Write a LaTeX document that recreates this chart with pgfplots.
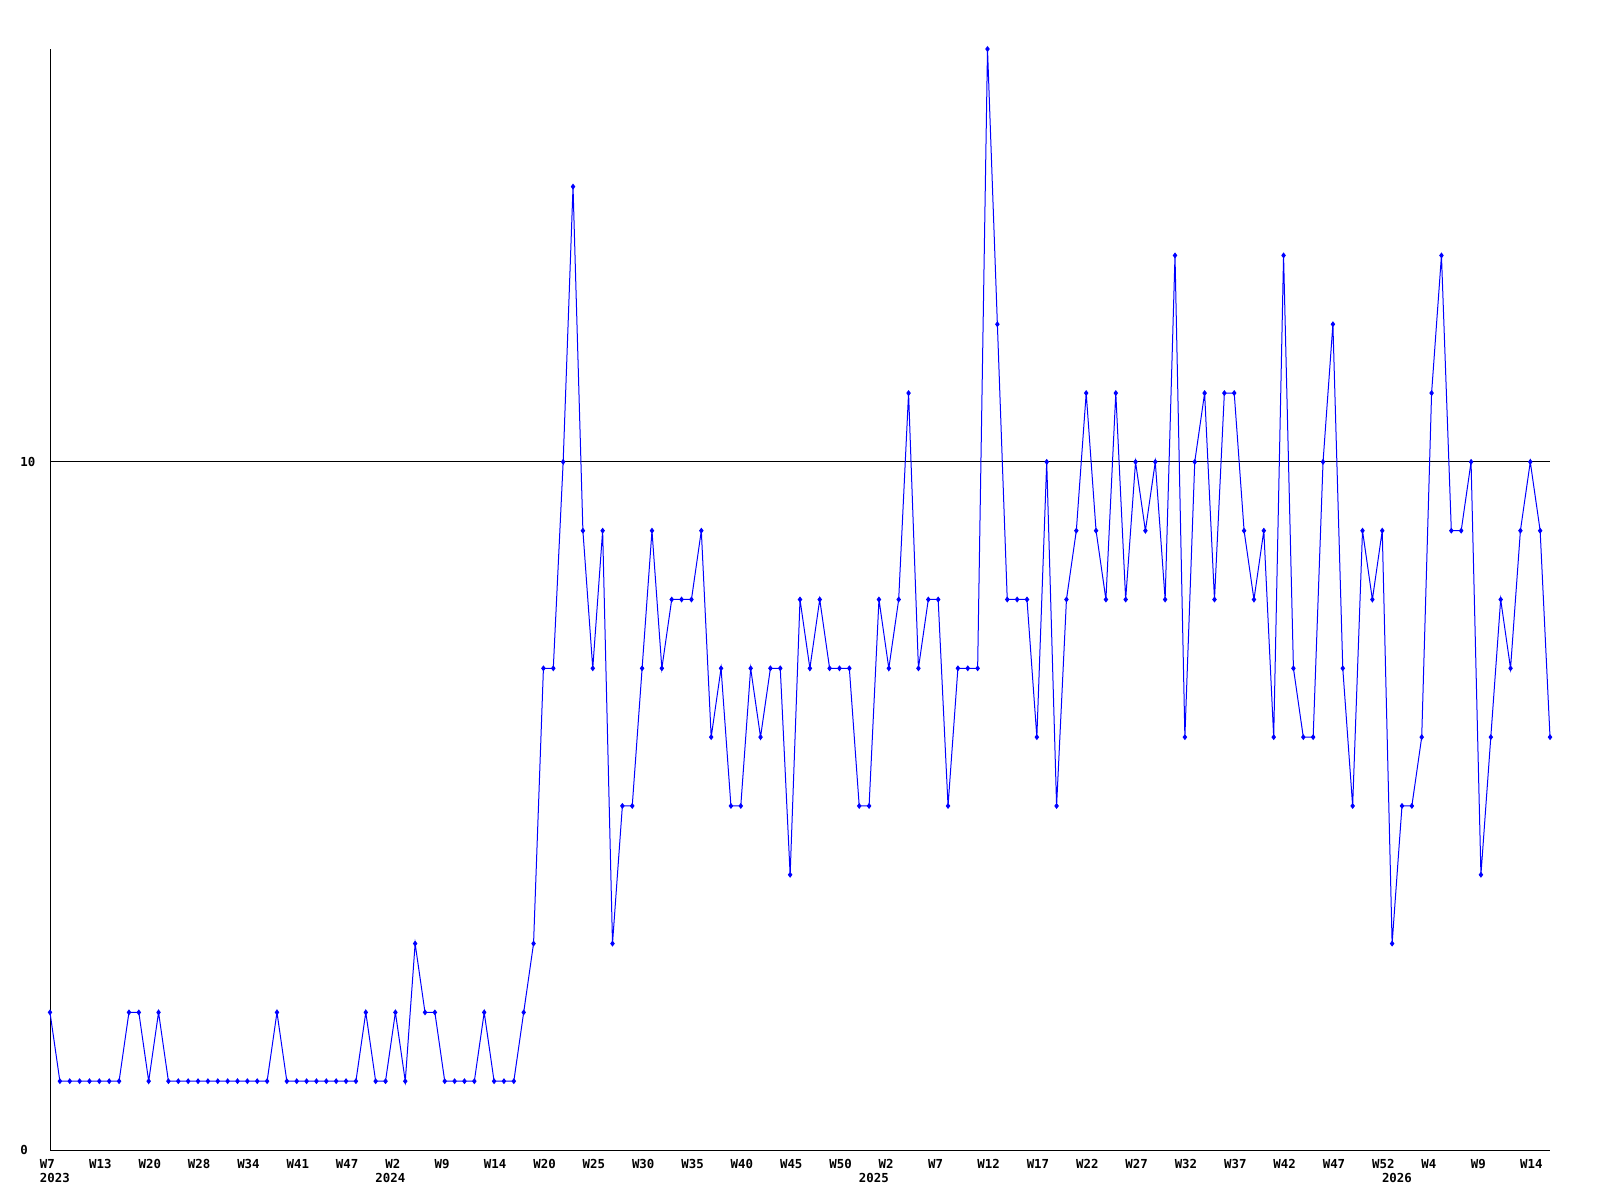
\documentclass[border=0pt]{standalone}
\usepackage{fontspec}
\setmainfont{DejaVu Sans Mono}
\usepackage{pgfplots}
\pgfplotsset{compat=1.18}
\begin{document}
\begin{tikzpicture}
\useasboundingbox (0,0) rectangle (800pt,600pt);
\begin{axis}[
  at={(25pt,25pt)}, anchor=south west,
  scale only axis, width=750pt, height=550.5pt,
  xmin=0, xmax=152, ymin=0, ymax=16,
  clip=false,
  axis lines*=left,
  axis line style={-, black, line width=0.5pt},
  major tick length=0pt,
  ytick={0,10}, yticklabels={0,10},
  ymajorgrids, major grid style={black, line width=0.5pt},
  xtick={0,5,...,150},
  xticklabels={W7,W13,W20,W28,W34,W41,W47,W2,W9,W14,W20,W25,W30,W35,W40,W45,W50,W2,W7,W12,W17,W22,W27,W32,W37,W42,W47,W52,W4,W9,W14},
  extra x ticks={0,34,83,136},
  extra x tick labels={2023,2024,2025,2026},
  extra x tick style={xticklabel style={yshift=-7.2pt}},
  tick label style={font=\fontsize{6.2}{7}\selectfont\bfseries, inner sep=0pt},
  xticklabel style={anchor=north west, xshift=-5.25pt, yshift=-4.3pt},
  yticklabel style={anchor=west, xshift=-15pt},
]
\addplot[blue, line width=0.5pt, mark=diamond*, mark size=1.1pt, mark options={blue}] coordinates {
(0,2)(1,1)(2,1)(3,1)(4,1)(5,1)(6,1)(7,1)(8,2)(9,2)
(10,1)(11,2)(12,1)(13,1)(14,1)(15,1)(16,1)(17,1)(18,1)(19,1)
(20,1)(21,1)(22,1)(23,2)(24,1)(25,1)(26,1)(27,1)(28,1)(29,1)
(30,1)(31,1)(32,2)(33,1)(34,1)(35,2)(36,1)(37,3)(38,2)(39,2)
(40,1)(41,1)(42,1)(43,1)(44,2)(45,1)(46,1)(47,1)(48,2)(49,3)
(50,7)(51,7)(52,10)(53,14)(54,9)(55,7)(56,9)(57,3)(58,5)(59,5)
(60,7)(61,9)(62,7)(63,8)(64,8)(65,8)(66,9)(67,6)(68,7)(69,5)
(70,5)(71,7)(72,6)(73,7)(74,7)(75,4)(76,8)(77,7)(78,8)(79,7)
(80,7)(81,7)(82,5)(83,5)(84,8)(85,7)(86,8)(87,11)(88,7)(89,8)
(90,8)(91,5)(92,7)(93,7)(94,7)(95,16)(96,12)(97,8)(98,8)(99,8)
(100,6)(101,10)(102,5)(103,8)(104,9)(105,11)(106,9)(107,8)(108,11)(109,8)
(110,10)(111,9)(112,10)(113,8)(114,13)(115,6)(116,10)(117,11)(118,8)(119,11)
(120,11)(121,9)(122,8)(123,9)(124,6)(125,13)(126,7)(127,6)(128,6)(129,10)
(130,12)(131,7)(132,5)(133,9)(134,8)(135,9)(136,3)(137,5)(138,5)(139,6)
(140,11)(141,13)(142,9)(143,9)(144,10)(145,4)(146,6)(147,8)(148,7)(149,9)
(150,10)(151,9)(152,6)
};
\end{axis}
\end{tikzpicture}
\end{document}
